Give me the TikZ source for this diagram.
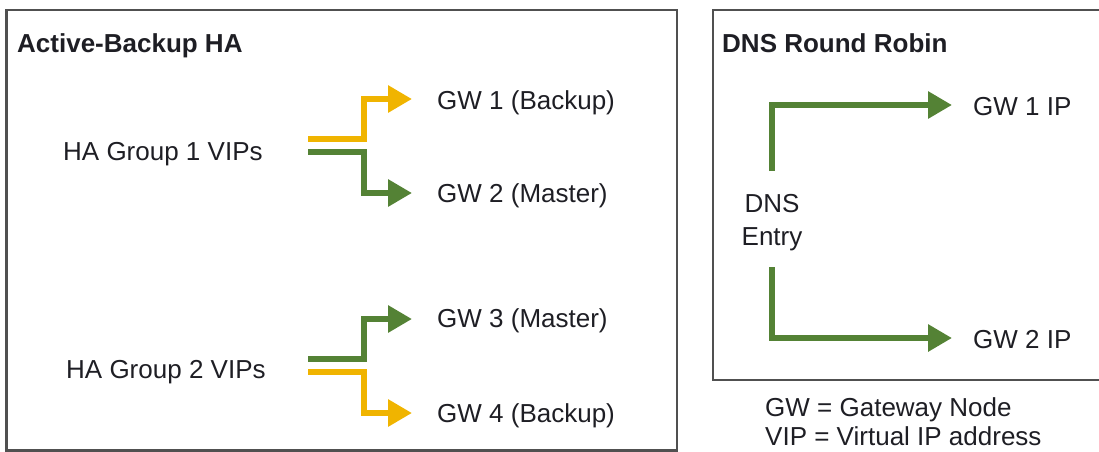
\documentclass[tikz,border=0pt]{standalone}
\usepackage{fontspec}
\setmainfont{Liberation Sans}
\usetikzlibrary{arrows.meta}
\definecolor{hayellow}{RGB}{240,180,0}
\definecolor{hagreen}{RGB}{84,130,53}
\definecolor{boxgray}{RGB}{80,80,80}
\definecolor{txt}{RGB}{30,30,36}
\tikzset{
  lbl/.style={inner sep=0pt, anchor=base west, text=txt, font=\fontsize{26}{30}\selectfont},
  ttl/.style={lbl, font=\fontsize{26}{30}\selectfont\bfseries},
  frame/.style={draw=boxgray, line width=2.4pt},
  conn/.style={line width=6.5pt, line join=miter, -{Triangle[length=24pt,width=26pt]}},
  yconn/.style={conn, draw=hayellow},
  gconn/.style={conn, draw=hagreen}
}
\begin{document}
\begin{tikzpicture}[x=1pt,y=-1pt]
\useasboundingbox (0,0) rectangle (1099,451);
% frames
\draw[frame] (6.5,10) rectangle (677,450.5);
\draw[frame] (713,10) rectangle (1110,380);
% titles
\node[ttl] (t1) at (17,52) {Active-Backup HA};
\node[ttl] (t2) at (722,52) {DNS Round Robin};
% left labels
\node[lbl] (g1) at (63,160) {HA Group 1 VIPs};
\node[lbl] (g2) at (66,378) {HA Group 2 VIPs};
\node[lbl] (gw1) at (437,109) {GW 1 (Backup)};
\node[lbl] (gw2) at (437,202) {GW 2 (Master)};
\node[lbl] (gw3) at (437,327) {GW 3 (Master)};
\node[lbl] (gw4) at (437,422) {GW 4 (Backup)};
% right labels
\node[lbl, anchor=base] (dns1) at (772,212) {DNS};
\node[lbl, anchor=base] (dns2) at (772,245) {Entry};
\node[lbl] (ip1) at (973,115) {GW 1 IP};
\node[lbl] (ip2) at (973,348) {GW 2 IP};
% legend
\node[lbl] (lg1) at (765,416) {GW = Gateway Node};
\node[lbl] (lg2) at (765,445) {VIP = Virtual IP address};
% connector endpoints
\coordinate (s1y) at (308,139);
\coordinate (s1g) at (308,152);
\coordinate (s2g) at (308,359);
\coordinate (s2y) at (308,372);
\coordinate (e1) at (412,99);
\coordinate (e2) at (412,193);
\coordinate (e3) at (412,319);
\coordinate (e4) at (412,413);
\coordinate (d1) at (772,171);
\coordinate (d2) at (772,267);
\coordinate (f1) at (952,105);
\coordinate (f2) at (952,338);
% connectors
\draw[yconn] (s1y) -- (364,139) |- (e1);
\draw[gconn] (s1g) -- (364,152) |- (e2);
\draw[gconn] (s2g) -- (364,359) |- (e3);
\draw[yconn] (s2y) -- (364,372) |- (e4);
\draw[gconn] (d1) |- (f1);
\draw[gconn] (d2) |- (f2);
\end{tikzpicture}
\end{document}
